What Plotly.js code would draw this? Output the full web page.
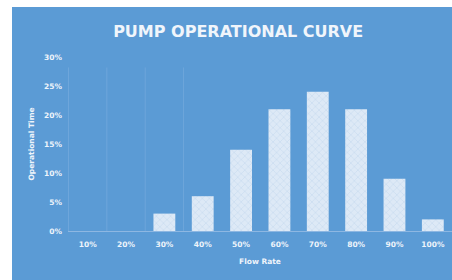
<!DOCTYPE html>
<html>
<head>
<meta charset="utf-8">
<script src="https://cdn.plot.ly/plotly-3.0.1.min.js"></script>
<style>
html,body{margin:0;padding:0;background:#ffffff;width:452px;height:280px;overflow:hidden;}
#chart{position:absolute;left:12px;top:7px;width:440px;height:273px;}
</style>
</head>
<body>
<div id="chart"></div>
<script>
const categories = ["10%","20%","30%","40%","50%","60%","70%","80%","90%","100%"];
const operationalTime = [0, 0, 3, 6, 14, 21, 24, 21, 9, 2];
const yTickVals = [0, 5, 10, 15, 20, 25, 30];
const yTickText = ["0%","5%","10%","15%","20%","25%","30%"];

const txt = '#eef4fb';
const fam = 'DejaVu Sans, sans-serif';
const trace = {
  type: 'bar',
  x: categories,
  y: operationalTime,
  marker: {
    color: '#dde9f6',
    line: {width: 0},
    pattern: {shape: 'x', fgcolor: '#c9dbef', bgcolor: '#dde9f6', size: 5, solidity: 0.25}
  },
  hoverinfo: 'none'
};

const layout = {
  width: 440, height: 273,
  paper_bgcolor: '#5b9bd5',
  plot_bgcolor: '#5b9bd5',
  margin: {l: 56, r: 0, t: 50, b: 49},
  bargap: 0.43,
  showlegend: false,
  title: {
    text: 'PUMP OPERATIONAL CURVE',
    font: {family: fam, size: 16, color: '#f0f5fb', weight: 'bold'},
    x: 0.514, xref: 'container', xanchor: 'center',
    y: 0.91, yref: 'container', yanchor: 'middle'
  },
  xaxis: {
    type: 'category',
    showgrid: false,
    showline: true, linecolor: '#8db7e2', linewidth: 1,
    ticks: '', ticklabelstandoff: 6,
    tickfont: {family: fam, size: 7.5, color: txt, weight: 'bold'},
    title: {text: 'Flow Rate', standoff: 10,
      font: {family: fam, size: 7.5, color: txt, weight: 'bold'}}
  },
  yaxis: {
    range: [0, 30],
    tickvals: yTickVals, ticktext: yTickText,
    showgrid: false, zeroline: false,
    ticks: '', ticklabelstandoff: 5,
    tickfont: {family: fam, size: 7.5, color: txt, weight: 'bold'},
    title: {text: 'Operational Time', standoff: 8,
      font: {family: fam, size: 7.5, color: txt, weight: 'bold'}}
  },
  shapes: categories.slice(0, 4).map((c, i) => ({
    type: 'line', xref: 'x', yref: 'paper',
    x0: i - 0.5, x1: i - 0.5, y0: 0, y1: 0.94,
    line: {color: 'rgba(130,178,225,0.5)', width: 1}
  }))
};

Plotly.newPlot('chart', [trace], layout, {displayModeBar: false, staticPlot: true});
</script>
</body>
</html>
